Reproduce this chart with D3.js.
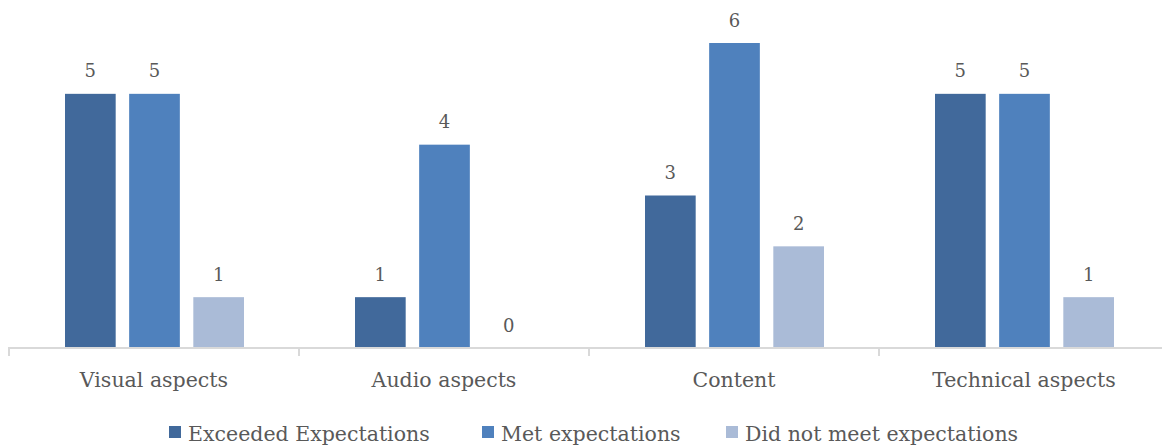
<!DOCTYPE html>
<html>
<head>
<meta charset="utf-8">
<script src="https://cdn.jsdelivr.net/npm/d3@7"></script>
<style>
  html, body { margin: 0; padding: 0; background: #ffffff; }
  svg { display: block; }
  text { font-family: "DejaVu Serif", "Liberation Serif", serif; fill: #595959; }
</style>
</head>
<body>
<svg id="chart" width="1162" height="446"></svg>
<script>
// Survey ratings per aspect
const categories = ["Visual aspects", "Audio aspects", "Content", "Technical aspects"];
const seriesNames = ["Exceeded Expectations", "Met expectations", "Did not meet expectations"];
const exceeded = [5, 1, 3, 5];
const met = [5, 4, 6, 5];
const notMet = [1, 0, 2, 1];
const seriesColors = ["#41699b", "#4f81bd", "#aabbd7"];

const seriesValues = [exceeded, met, notMet];
const rows = categories.map((c, i) => ({
  category: c,
  values: seriesValues.map((s, k) => ({ key: seriesNames[k], value: s[i], idx: k }))
}));

const svg = d3.select("#chart");
const baseline = 348;

const x0 = d3.scaleBand().domain(categories).range([9, 1169]).paddingInner(0).paddingOuter(0);
const x1 = d3.scaleBand().domain(seriesNames).range([56, 235]).paddingInner(0.21).paddingOuter(0);
const y = d3.scaleLinear().domain([0, 6]).range([baseline, 43]);

// Bars
const groups = svg.append("g").selectAll("g").data(rows).join("g")
  .attr("transform", d => `translate(${x0(d.category)},0)`);

groups.selectAll("rect").data(d => d.values).join("rect")
  .attr("x", d => x1(d.key))
  .attr("y", d => y(d.value))
  .attr("width", x1.bandwidth())
  .attr("height", d => baseline - y(d.value))
  .attr("fill", d => seriesColors[d.idx]);

// Value labels
groups.selectAll("text.val").data(d => d.values).join("text")
  .attr("class", "val")
  .attr("x", d => x1(d.key) + x1.bandwidth() / 2)
  .attr("y", d => y(d.value) - 16.5)
  .attr("text-anchor", "middle")
  .style("font-size", "18px")
  .text(d => d.value);

// Category axis
const axis = d3.axisBottom(x0).tickSize(8).tickSizeOuter(8).tickFormat(() => "");
const axisG = svg.append("g").attr("transform", `translate(0,${baseline})`).call(axis);
axisG.select(".domain").attr("stroke", "#d9d9d9").attr("stroke-width", 2)
  .attr("d", `M9,8V0H1169V8`);
axisG.selectAll(".tick line").attr("stroke", "#d9d9d9").attr("stroke-width", 2)
  .attr("transform", d => `translate(${-x0.bandwidth() / 2},0)`);

svg.append("g").selectAll("text").data(categories).join("text")
  .attr("x", d => x0(d) + x0.bandwidth() / 2)
  .attr("y", 387)
  .attr("text-anchor", "middle")
  .style("font-size", "20.5px")
  .text(d => d);

// Legend
const legendX = [169, 482, 726];
const legend = svg.append("g").selectAll("g").data(seriesNames).join("g")
  .attr("transform", (d, i) => `translate(${legendX[i]},426)`);
legend.append("rect").attr("width", 12).attr("height", 12)
  .attr("fill", (d, i) => seriesColors[i]);
legend.append("text").attr("x", 19).attr("y", 14.5)
  .style("font-size", "20.5px")
  .text(d => d);
</script>
</body>
</html>
